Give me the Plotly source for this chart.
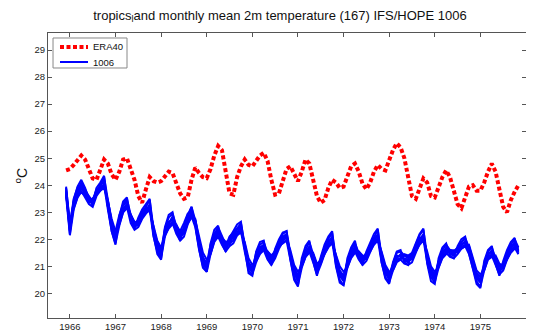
import plotly.graph_objects as go

# ---- data: monthly values, Dec 1965 .. Nov 1975 (120 months) ----
start_year = 1965
start_month = 12

era40 = [
    24.55,
    24.6, 24.75, 24.95, 25.1, 24.95, 24.6, 24.25, 24.2, 24.55, 24.95, 24.8, 24.4,
    24.2, 24.5, 24.95, 25.0, 24.6, 24.2, 23.6, 23.35, 23.85, 24.3, 24.15, 24.1,
    24.15, 24.35, 24.5, 24.45, 24.1, 23.7, 23.5, 23.55, 24.2, 24.65, 24.45, 24.3,
    24.26, 24.6, 25.1, 25.45, 25.3, 24.5, 23.7, 23.65, 24.3, 24.7, 24.95, 24.75,
    24.7, 24.9, 25.1, 25.2, 24.9, 24.2, 23.65, 23.7, 24.2, 24.6, 24.7, 24.4,
    24.15, 24.5, 24.95, 24.8, 24.2, 23.6, 23.35, 23.45, 23.9, 24.2, 24.1, 23.9,
    23.95, 24.3, 24.7, 24.8, 24.5, 24.05, 23.85, 24.1, 24.5, 24.75, 24.6, 24.55,
    24.9, 25.3, 25.55, 25.4, 25.0, 24.3, 23.6, 23.5, 23.85, 24.25, 24.1, 23.6,
    23.55, 23.9, 24.3, 24.55, 24.3, 23.8, 23.3, 23.15, 23.6, 23.95, 24.0, 23.8,
    23.8, 24.1, 24.5, 24.8, 24.5, 23.8, 23.2, 23.0, 23.45, 23.75, 24.0,
]

member_1 = [
    23.9,
    22.6, 23.4, 23.8, 24.1, 23.8, 23.6, 23.4, 23.8, 23.95, 24.3, 23.4, 22.6,
    22.3, 22.9, 23.3, 23.5, 22.9, 22.6, 22.7, 23.0, 23.2, 23.45, 22.4, 21.9,
    21.6, 22.4, 22.8, 22.95, 22.5, 22.2, 22.4, 22.8, 23.2, 22.7, 21.9, 21.3,
    21.1, 21.8, 22.2, 22.45, 22.1, 21.8, 22.0, 22.2, 22.4, 22.6, 21.8, 21.1,
    20.9, 21.5, 21.8, 21.9, 21.5, 21.3, 21.6, 21.9, 22.2, 22.3, 21.5, 20.9,
    20.6, 21.2, 21.6, 21.9, 21.4, 21.0, 21.3, 21.7, 22.0, 22.25, 21.3, 20.8,
    20.6, 21.2, 21.6, 21.85, 21.5, 21.3, 21.5, 21.8, 22.1, 22.35, 21.4, 20.9,
    20.7, 21.1, 21.5, 21.55, 21.4, 21.3, 21.4, 21.8, 22.15, 22.35, 21.4, 20.9,
    20.65, 21.2, 21.6, 21.8, 21.6, 21.55, 21.7, 21.9, 22.05, 21.7, 21.2, 20.7,
    20.6, 21.1, 21.55, 21.7, 21.3, 21.0, 21.1, 21.5, 21.8, 22.0, 21.7,
]
member_2 = [
    23.6,
    22.15, 23.1, 23.55, 23.8, 23.55, 23.3, 23.2, 23.6, 23.8, 24.0, 23.1, 22.3,
    21.85, 22.5, 23.0, 23.2, 22.6, 22.35, 22.45, 22.75, 22.95, 23.1, 22.1, 21.55,
    21.3, 22.1, 22.45, 22.6, 22.2, 21.95, 22.1, 22.55, 22.85, 22.45, 21.6, 21.0,
    20.8, 21.45, 21.95, 22.1, 21.8, 21.55, 21.75, 21.85, 22.15, 22.3, 21.55, 20.85,
    20.7, 21.15, 21.5, 21.6, 21.25, 21.05, 21.3, 21.65, 21.9, 21.95, 21.25, 20.6,
    20.3, 20.95, 21.35, 21.55, 21.15, 20.7, 21.05, 21.45, 21.75, 21.9, 21.05, 20.5,
    20.3, 20.95, 21.35, 21.55, 21.25, 21.05, 21.2, 21.55, 21.85, 22.0, 21.15, 20.6,
    20.4, 20.85, 21.2, 21.25, 21.1, 21.05, 21.15, 21.5, 21.85, 22.0, 21.15, 20.6,
    20.4, 20.95, 21.35, 21.5, 21.35, 21.3, 21.45, 21.65, 21.75, 21.45, 20.95, 20.45,
    20.25, 20.85, 21.3, 21.4, 21.05, 20.7, 20.85, 21.25, 21.55, 21.7, 21.45,
]
member_3 = [
    23.95,
    22.5, 23.5, 23.9, 24.0, 23.6, 23.45, 23.35, 23.65, 24.05, 24.2, 23.2, 22.45,
    21.95, 22.75, 23.25, 23.4, 22.7, 22.55, 22.7, 22.85, 23.05, 23.3, 22.2, 21.75,
    21.5, 22.2, 22.55, 22.85, 22.3, 22.05, 22.25, 22.75, 22.95, 22.55, 21.75, 21.1,
    20.9, 21.65, 22.15, 22.35, 21.9, 21.65, 21.95, 22.1, 22.35, 22.5, 21.65, 20.95,
    20.8, 21.35, 21.7, 21.8, 21.35, 21.25, 21.55, 21.75, 22.0, 22.15, 21.35, 20.75,
    20.45, 21.15, 21.45, 21.75, 21.25, 20.8, 21.25, 21.65, 21.85, 22.1, 21.15, 20.65,
    20.45, 21.05, 21.45, 21.75, 21.35, 21.15, 21.4, 21.65, 21.95, 22.2, 21.25, 20.75,
    20.5, 20.95, 21.3, 21.45, 21.2, 21.15, 21.35, 21.6, 21.95, 22.2, 21.25, 20.7,
    20.5, 21.05, 21.45, 21.7, 21.45, 21.4, 21.65, 21.75, 21.95, 21.55, 21.05, 20.55,
    20.4, 20.95, 21.4, 21.6, 21.15, 20.8, 21.05, 21.35, 21.65, 21.9, 21.55,
]
member_4 = [
    23.7,
    22.3, 23.2, 23.65, 23.9, 23.75, 23.5, 23.25, 23.75, 23.9, 24.05, 23.35, 22.55,
    22.1, 22.6, 23.1, 23.3, 22.85, 22.45, 22.55, 22.95, 23.15, 23.2, 22.35, 21.65,
    21.4, 22.25, 22.65, 22.7, 22.45, 22.3, 22.6, 22.95, 23.05, 22.65, 21.85, 21.25,
    21.0, 21.55, 22.05, 22.25, 22.0, 21.75, 22.1, 22.25, 22.4, 22.4, 21.75, 21.05,
    20.95, 21.4, 21.6, 21.7, 21.45, 21.15, 21.4, 21.85, 22.1, 22.2, 21.45, 20.85,
    20.55, 21.0, 21.55, 21.65, 21.35, 20.9, 21.15, 21.55, 21.95, 22.0, 21.25, 20.75,
    20.55, 21.15, 21.55, 21.65, 21.45, 21.25, 21.3, 21.75, 22.05, 22.1, 21.35, 20.85,
    20.6, 21.05, 21.4, 21.35, 21.3, 21.25, 21.25, 21.7, 22.05, 22.1, 21.35, 20.8,
    20.6, 21.15, 21.55, 21.6, 21.55, 21.5, 21.55, 21.85, 21.85, 21.65, 21.15, 20.65,
    20.5, 21.05, 21.5, 21.5, 21.25, 20.9, 20.95, 21.45, 21.75, 21.8, 21.65,
]
member_5 = [
    23.85,
    22.35, 23.35, 23.75, 24.0, 23.65, 23.35, 23.5, 23.7, 24.0, 24.15, 23.25, 22.4,
    22.0, 22.8, 23.15, 23.3, 22.75, 22.5, 22.65, 22.9, 23.05, 23.2, 22.25, 21.7,
    21.45, 22.35, 22.6, 22.8, 22.35, 22.1, 22.35, 22.65, 23.0, 22.6, 21.8, 21.2,
    20.95, 21.6, 22.1, 22.3, 21.95, 21.7, 21.85, 21.95, 22.25, 22.45, 21.7, 21.0,
    20.85, 21.3, 21.65, 21.75, 21.4, 21.2, 21.5, 21.8, 22.05, 22.1, 21.4, 20.8,
    20.5, 21.1, 21.5, 21.7, 21.3, 20.85, 21.2, 21.6, 21.9, 22.05, 21.2, 20.7,
    20.5, 21.1, 21.5, 21.7, 21.4, 21.2, 21.35, 21.7, 22.0, 22.15, 21.3, 20.8,
    20.55, 21.0, 21.35, 21.4, 21.25, 21.2, 21.3, 21.65, 22.0, 22.15, 21.3, 20.75,
    20.55, 21.1, 21.5, 21.65, 21.5, 21.45, 21.6, 21.8, 21.9, 21.6, 21.1, 20.6,
    20.45, 21.0, 21.45, 21.55, 21.2, 20.85, 21.0, 21.4, 21.7, 21.85, 21.6,
]
member_6 = [
    23.75,
    22.45, 23.25, 23.6, 23.85, 23.85, 23.55, 23.45, 23.85, 23.85, 24.0, 23.45, 22.65,
    22.2, 22.65, 23.1, 23.25, 22.95, 22.6, 22.5, 23.05, 23.0, 23.15, 22.45, 21.8,
    21.55, 22.2, 22.5, 22.65, 22.55, 22.25, 22.2, 22.6, 22.9, 22.75, 21.95, 21.35,
    21.1, 21.5, 22.0, 22.2, 22.05, 21.85, 21.8, 22.15, 22.2, 22.35, 21.85, 21.15,
    20.95, 21.25, 21.55, 21.7, 21.55, 21.35, 21.45, 21.9, 21.95, 22.05, 21.55, 20.95,
    20.65, 21.05, 21.4, 21.6, 21.45, 21.0, 21.1, 21.5, 21.8, 21.95, 21.35, 20.85,
    20.65, 21.0, 21.4, 21.6, 21.55, 21.35, 21.25, 21.6, 21.9, 22.05, 21.45, 20.95,
    20.7, 20.9, 21.25, 21.3, 21.4, 21.35, 21.45, 21.55, 21.9, 22.05, 21.45, 20.9,
    20.7, 21.0, 21.4, 21.55, 21.6, 21.55, 21.5, 21.7, 21.8, 21.75, 21.25, 20.75,
    20.6, 20.9, 21.35, 21.45, 21.35, 21.0, 20.9, 21.3, 21.6, 21.75, 21.7,
]
member_7 = [
    23.8,
    22.2, 23.45, 23.95, 24.2, 23.9, 23.5, 23.3, 23.9, 24.1, 24.35, 23.2, 22.3,
    21.8, 22.85, 23.4, 23.55, 22.75, 22.4, 22.8, 23.1, 23.3, 23.5, 22.15, 21.45,
    21.25, 22.45, 22.9, 23.0, 22.35, 21.95, 22.45, 22.9, 23.2, 22.5, 21.65, 20.95,
    20.8, 21.85, 22.35, 22.5, 21.85, 21.55, 22.05, 22.3, 22.55, 22.65, 21.6, 20.75,
    20.65, 21.55, 21.9, 21.95, 21.3, 21.05, 21.65, 22.0, 22.25, 22.3, 21.25, 20.5,
    20.25, 21.3, 21.75, 21.95, 21.2, 20.65, 21.35, 21.8, 22.1, 22.3, 21.0, 20.4,
    20.3, 21.3, 21.7, 21.95, 21.3, 21.05, 21.55, 21.9, 22.2, 22.4, 21.15, 20.55,
    20.35, 21.15, 21.55, 21.6, 21.15, 21.05, 21.5, 21.85, 22.2, 22.4, 21.1, 20.45,
    20.35, 21.3, 21.7, 21.85, 21.4, 21.3, 21.75, 22.0, 22.1, 21.5, 20.9, 20.35,
    20.2, 21.2, 21.6, 21.75, 21.1, 20.65, 21.2, 21.6, 21.9, 22.05, 21.5,
]
member_8 = [
    23.65,
    22.6, 23.15, 23.55, 23.75, 23.6, 23.45, 23.5, 23.65, 23.8, 23.9, 23.4, 22.75,
    22.3, 22.55, 23.0, 23.15, 22.9, 22.65, 22.6, 22.85, 23.0, 23.05, 22.5, 21.95,
    21.7, 22.15, 22.4, 22.55, 22.5, 22.3, 22.4, 22.6, 22.8, 22.7, 22.05, 21.5,
    21.25, 21.45, 21.9, 22.1, 22.05, 21.9, 21.95, 22.05, 22.15, 22.25, 21.9, 21.3,
    21.05, 21.2, 21.45, 21.6, 21.55, 21.4, 21.55, 21.75, 21.85, 21.95, 21.6, 21.05,
    20.8, 21.0, 21.35, 21.5, 21.5, 21.1, 21.2, 21.45, 21.7, 21.85, 21.45, 21.0,
    20.8, 20.95, 21.3, 21.5, 21.55, 21.4, 21.35, 21.55, 21.8, 21.95, 21.55, 21.05,
    20.8, 20.85, 21.15, 21.25, 21.45, 21.4, 21.5, 21.55, 21.8, 21.95, 21.55, 21.0,
    20.8, 20.95, 21.3, 21.45, 21.6, 21.6, 21.55, 21.65, 21.75, 21.8, 21.35, 20.85,
    20.7, 20.85, 21.25, 21.35, 21.4, 21.1, 21.0, 21.25, 21.5, 21.65, 21.75,
]
members_1006 = [member_1, member_2, member_3, member_4,
                member_5, member_6, member_7, member_8]

x_tick_years = [1966, 1967, 1968, 1969, 1970, 1971, 1972, 1973, 1974, 1975, 1976]
y_ticks = [20, 21, 22, 23, 24, 25, 26, 27, 28, 29]
legend_names = ["ERA40", "1006"]

ERA_COLOR = "#FF0000"
ENS_COLOR = "#0000FF"
ERA_DASH = "4px,2.5px"

# decimal year of each month (year + (month-1)/12)
t = [start_year + (start_month - 1 + i) / 12.0 for i in range(len(era40))]

fig = go.Figure()
for k, m in enumerate(members_1006):
    fig.add_trace(go.Scatter(
        x=t, y=m, mode="lines", name=legend_names[1],
        line=dict(color=ENS_COLOR, width=2),
        legendgroup="1006", showlegend=False,
    ))
fig.add_trace(go.Scatter(
    x=t, y=era40, mode="lines", name=legend_names[0],
    line=dict(color=ERA_COLOR, width=4, dash=ERA_DASH),
    showlegend=False,
))

axis_common = dict(
    showgrid=False, zeroline=False, showline=True, linecolor="#555555",
    linewidth=1, mirror="ticks", ticks="inside", ticklen=4, tickcolor="#555555",
    automargin=False,
    tickfont=dict(family="Liberation Sans, Arial, sans-serif", size=9.5, color="#222222"),
)
fig.update_xaxes(range=[1965.52, 1976.0], tickvals=x_tick_years,
                 ticktext=[str(v) for v in x_tick_years], **axis_common)
fig.update_yaxes(range=[19.09, 29.63], tickvals=y_ticks,
                 ticktext=[str(v) for v in y_ticks], **axis_common)

# MATLAB-style compact legend box (paper coordinates of the plot area)
lg_x0, lg_x1, lg_y0, lg_y1 = 0.0105, 0.1653, 0.8772, 0.9825
row_y = [0.9509, 0.8982]
smp_x0, smp_x1, txt_x = 0.0251, 0.0837, 0.0900
shapes = [dict(type="rect", xref="paper", yref="paper",
               x0=lg_x0, x1=lg_x1, y0=lg_y0, y1=lg_y1,
               line=dict(color="#888888", width=1), fillcolor="white", layer="above")]
shapes.append(dict(type="line", xref="paper", yref="paper",
                   x0=smp_x0, x1=smp_x1, y0=row_y[0], y1=row_y[0], layer="above",
                   line=dict(color=ERA_COLOR, width=4, dash=ERA_DASH)))
shapes.append(dict(type="line", xref="paper", yref="paper",
                   x0=smp_x0, x1=smp_x1, y0=row_y[1], y1=row_y[1], layer="above",
                   line=dict(color=ENS_COLOR, width=2)))
annotations = [dict(text=name, x=txt_x, y=yy, xref="paper", yref="paper",
                    xanchor="left", yanchor="middle", showarrow=False,
                    font=dict(size=9.5, color="#111111"))
               for name, yy in zip(legend_names, row_y)]
annotations.append(dict(
    text="<sup>o</sup>C", x=-0.0565, y=0.5, xref="paper", yref="paper",
    xanchor="center", yanchor="middle", textangle=-90, showarrow=False,
    font=dict(size=14, color="#111111"),
))

# the page adds an 8px body margin, so the figure is 8px smaller than the window
fig.update_layout(
    width=526, height=326,
    margin=dict(l=40, r=8, t=25, b=16, autoexpand=False),
    paper_bgcolor="white", plot_bgcolor="white",
    font=dict(family="Liberation Sans, Arial, sans-serif", color="#111111"),
    title=dict(
        text="tropics<sub>l</sub>and monthly mean 2m temperature (167) IFS/HOPE 1006",
        x=0.517, xanchor="center", y=0.978, yanchor="middle",
        font=dict(size=13, color="#111111"),
    ),
    showlegend=False,
    shapes=shapes,
    annotations=annotations,
)

fig.write_html("out.html")
